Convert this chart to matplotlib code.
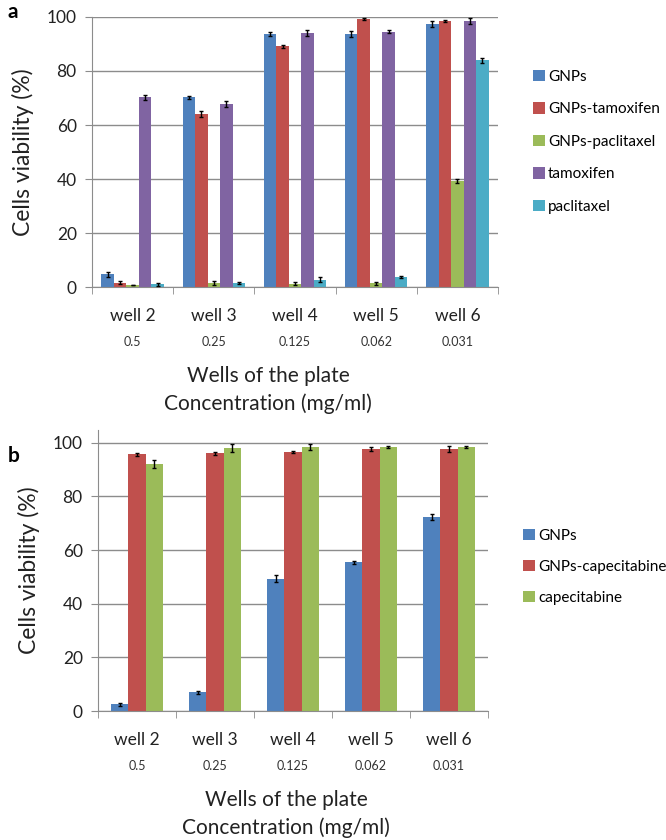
import matplotlib
matplotlib.use("Agg")
import matplotlib.pyplot as plt
import numpy as np

plt.rcParams['font.family'] = ['Lato', 'DejaVu Sans']

wells = ["well 2", "well 3", "well 4", "well 5", "well 6"]
conc = ["0.5", "0.25", "0.125", "0.062", "0.031"]

# panel a
series_a = ["GNPs", "GNPs-tamoxifen", "GNPs-paclitaxel", "tamoxifen", "paclitaxel"]
gnps_a = [4.7, 70.2, 93.7, 93.7, 97.5]
gnps_tam_a = [1.6, 64.1, 89.1, 99.3, 98.5]
gnps_pac_a = [0.6, 1.5, 1.2, 1.3, 39.2]
tam_a = [70.2, 67.7, 94.1, 94.6, 98.5]
pac_a = [1.0, 1.5, 2.7, 3.7, 84.0]
err_gnps_a = [0.9, 0.4, 0.8, 1.2, 1.2]
err_gnps_tam_a = [0.5, 1.0, 0.4, 0.5, 0.4]
err_gnps_pac_a = [0.0, 0.6, 0.6, 0.6, 0.7]
err_tam_a = [0.8, 1.2, 1.1, 0.4, 1.2]
err_pac_a = [0.5, 0.5, 0.9, 0.5, 0.9]

# panel b
series_b = ["GNPs", "GNPs-capecitabine", "capecitabine"]
gnps_b = [2.5, 7.0, 49.4, 55.4, 72.4]
gnps_cap_b = [95.7, 96.1, 96.6, 97.8, 97.8]
cap_b = [92.2, 98.1, 98.5, 98.5, 98.5]
err_gnps_b = [0.5, 0.5, 1.4, 0.4, 1.0]
err_gnps_cap_b = [0.5, 0.5, 0.5, 0.8, 1.2]
err_cap_b = [1.4, 1.5, 1.2, 0.5, 0.5]

colors = ["#4F81BD", "#C0504D", "#9BBB59", "#8064A2", "#4BACC6"]
grid_c = "#8c8c8c"


def draw(ax, values, errs, names, ymax):
    n = len(values)
    w = 1.0 / (n + 1.5)
    x = np.arange(len(wells))
    handles = []
    for i, (v, e) in enumerate(zip(values, errs)):
        pos = x - n * w / 2 + w * (i + 0.5)
        h = ax.bar(pos, v, w, color=colors[i], label=names[i], zorder=2)
        ax.errorbar(pos, v, yerr=e, fmt='none', ecolor='black', elinewidth=1,
                    capsize=1.5, capthick=1, zorder=3)
        handles.append(h)
    ax.set_xlim(-0.5, len(wells) - 0.5)
    ax.set_ylim(0, ymax)
    ax.set_yticks(np.arange(0, 101, 20))
    ax.yaxis.grid(True, color=grid_c, lw=1, zorder=0)
    ax.set_axisbelow(True)
    for s in ["top", "right"]:
        ax.spines[s].set_visible(False)
    for s in ["left", "bottom"]:
        ax.spines[s].set_color(grid_c)
    ax.set_xticks(x)
    ax.set_xticklabels([])
    ax.tick_params(axis='x', which='major', length=0)
    ax.set_xticks(np.arange(-0.5, len(wells)), minor=True)
    ax.tick_params(axis='x', which='minor', length=5, color=grid_c, direction='out')
    ax.tick_params(axis='y', length=5, color=grid_c, labelsize=12.5, labelcolor='#222222', pad=6)
    for i in range(len(wells)):
        ax.annotate(wells[i], (x[i], 0), xycoords=('data', 'axes fraction'),
                    xytext=(0, -15), textcoords='offset points', ha='center', va='top',
                    fontsize=12.5, color='#222222')
        ax.annotate(conc[i], (x[i], 0), xycoords=('data', 'axes fraction'),
                    xytext=(0, -35), textcoords='offset points', ha='center', va='top',
                    fontsize=9, color='#333333')
    ax.set_ylabel("Cells viability (%)", fontsize=16.5, color='#222222', labelpad=9)
    return handles


fig = plt.figure(figsize=(6.66, 8.4), dpi=100)

ax1 = fig.add_axes([92 / 666, 1 - 287 / 840, 406 / 666, 270 / 840])
h1 = draw(ax1, [gnps_a, gnps_tam_a, gnps_pac_a, tam_a, pac_a],
          [err_gnps_a, err_gnps_tam_a, err_gnps_pac_a, err_tam_a, err_pac_a], series_a, 100)
fig.legend(handles=h1, labels=series_a, loc='upper left', bbox_to_anchor=(525 / 666, 1 - 62 / 840),
           frameon=False, fontsize=11, handlelength=0.8, handleheight=0.8,
           handletextpad=0.2, labelspacing=1.2, borderpad=0)

ax2 = fig.add_axes([98 / 666, 1 - 711 / 840, 390 / 666, 281 / 840])
h2 = draw(ax2, [gnps_b, gnps_cap_b, cap_b], [err_gnps_b, err_gnps_cap_b, err_cap_b], series_b, 104.8)
fig.legend(handles=h2, labels=series_b, loc='upper left', bbox_to_anchor=(515 / 666, 1 - 521 / 840),
           frameon=False, fontsize=11, handlelength=0.8, handleheight=0.8,
           handletextpad=0.2, labelspacing=1.1, borderpad=0)

fig.text(268 / 666, 1 - 390 / 840, "Wells of the plate\nConcentration (mg/ml)", ha='center', va='center',
         fontsize=15, color='#222222', linespacing=1.4)
fig.text(286 / 666, 1 - 814 / 840, "Wells of the plate\nConcentration (mg/ml)", ha='center', va='center',
         fontsize=15, color='#222222', linespacing=1.4)

fig.text(8 / 666, 1 - 2 / 840, "a", fontsize=15, fontweight='bold', va='top')
fig.text(8 / 666, 1 - 446 / 840, "b", fontsize=15, fontweight='bold', va='top')

fig.savefig("out.png", dpi=100)
